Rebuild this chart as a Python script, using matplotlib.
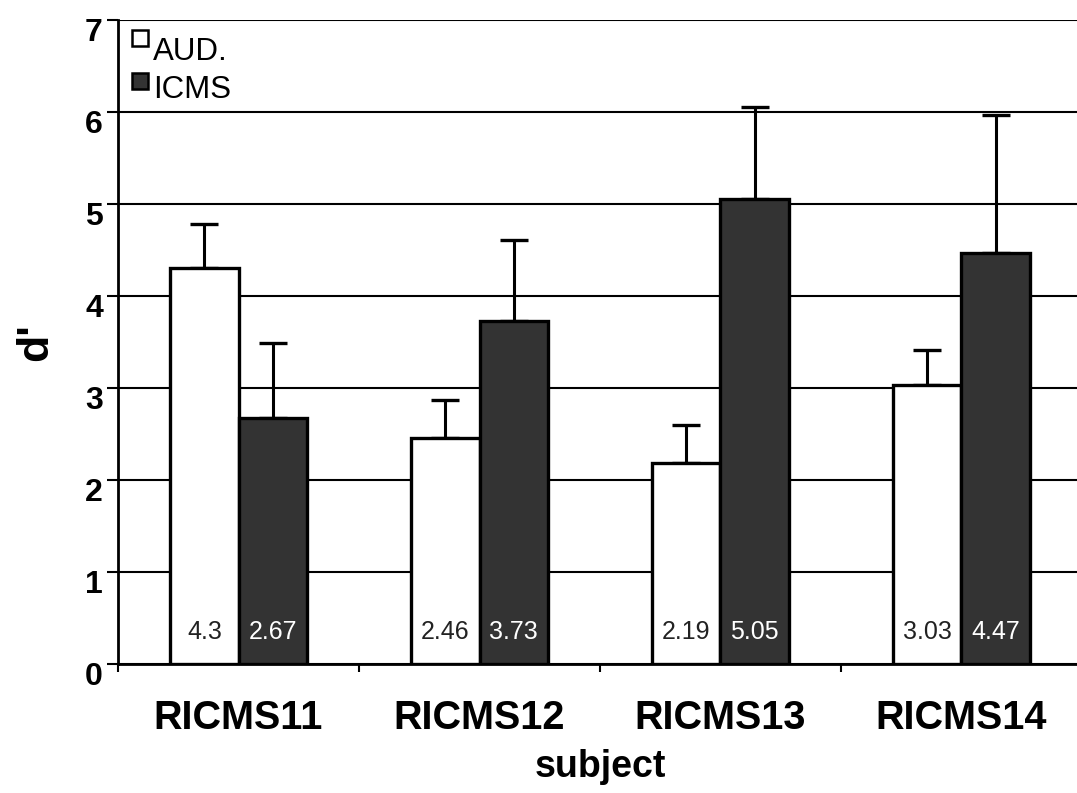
import matplotlib
matplotlib.use("Agg")
import matplotlib.pyplot as plt
import matplotlib.transforms as mtransforms
from matplotlib.patches import Rectangle
import numpy as np

subjects = ["RICMS11", "RICMS12", "RICMS13", "RICMS14"]
aud_vals = [4.30, 2.46, 2.19, 3.03]
icms_vals = [2.67, 3.73, 5.05, 4.47]
aud_err = [0.48, 0.41, 0.41, 0.38]
icms_err = [0.82, 0.88, 1.00, 1.50]
series_names = ["AUD.", "ICMS"]
yticks = [0, 1, 2, 3, 4, 5, 6, 7]

plt.rcParams['font.family'] = ['Liberation Sans', 'DejaVu Sans']

W, H = 1077, 793
fig = plt.figure(figsize=(W / 100, H / 100), dpi=100)
ax = fig.add_axes([0.1096, 0.1627, 0.895, 0.8121])

dark = "#333333"
width = 0.283
centers = np.arange(len(subjects)) + 0.5

ax.bar(centers - width / 2, aud_vals, width, color="white", edgecolor="black",
       linewidth=2.4, zorder=3)
ax.bar(centers + width / 2, icms_vals, width, color=dark, edgecolor="black",
       linewidth=2.4, zorder=3)

ax.errorbar(centers - width / 2, aud_vals, yerr=[np.zeros(4), aud_err], fmt="none",
            ecolor="black", elinewidth=2.2, capsize=10, capthick=2.4, zorder=2)
ax.errorbar(centers + width / 2, icms_vals, yerr=[np.zeros(4), icms_err], fmt="none",
            ecolor="black", elinewidth=2.2, capsize=10, capthick=2.4, zorder=2)

for c, a, i in zip(centers, aud_vals, icms_vals):
    ax.text(c - width / 2, 0.35, f"{a:g}", ha="center", va="center",
            fontsize=18, color="#222222", zorder=4)
    ax.text(c + width / 2, 0.35, f"{i:g}", ha="center", va="center",
            fontsize=18, color="white", zorder=4)

ax.set_xlim(0, len(subjects))
ax.set_ylim(0, 7)
ax.set_yticks(yticks)
ax.set_yticklabels([str(t) for t in yticks], fontsize=23, fontweight="bold")

ax.set_xticks(np.arange(len(subjects) + 1))
ax.set_xticklabels([])
ax.set_xticks(centers, minor=True)
ax.set_xticklabels(subjects, minor=True, fontsize=28.5, fontweight="bold")
ax.tick_params(axis="x", which="minor", length=0, pad=25)
ax.tick_params(axis="x", which="major", length=6, width=1.5)
ax.tick_params(axis="y", length=8, width=1.5, pad=3)

# y labels sit a little below their ticks
shift = mtransforms.ScaledTranslation(0, -10 / 100, fig.dpi_scale_trans)
for lbl in ax.get_yticklabels():
    lbl.set_transform(lbl.get_transform() + shift)

ax.yaxis.grid(True, color="black", linewidth=1.5, zorder=0)
ax.set_axisbelow(True)
for side in ["top", "right"]:
    ax.spines[side].set_visible(False)
ax.spines["left"].set_linewidth(2)
ax.spines["bottom"].set_linewidth(2)

ax.set_ylabel("d'", fontsize=32, fontweight="bold", labelpad=21)
ax.set_xlabel("subject", fontsize=27, fontweight="bold", labelpad=9)

# legend: small squares raised beside the series names
legend_rows = [(series_names[0], "white", 30, 60), (series_names[1], dark, 73, 98)]
for name, face, box_top, baseline in legend_rows:
    fig.patches.append(Rectangle((132 / W, 1 - (box_top + 16) / H), 16 / W, 16 / H,
                                 transform=fig.transFigure, facecolor=face,
                                 edgecolor="black", linewidth=1.8, zorder=5))
    fig.text(153 / W, 1 - baseline / H, name, fontsize=22.5, va="baseline",
             ha="left", color="black")

fig.savefig("out.png", dpi=100, facecolor="white")
